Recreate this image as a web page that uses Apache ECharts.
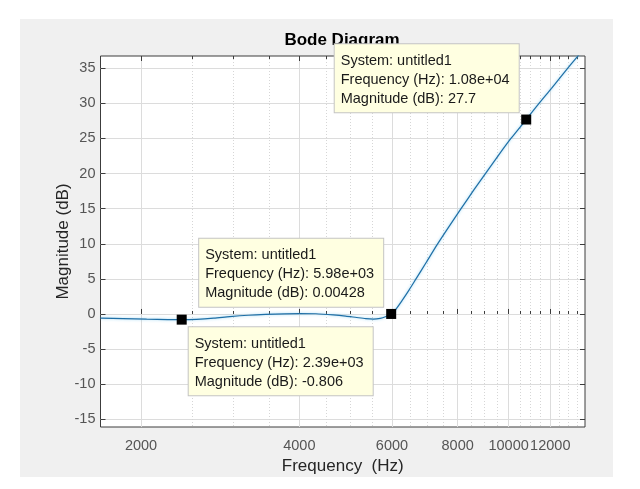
<!DOCTYPE html>
<html><head><meta charset="utf-8">
<script src="https://cdn.jsdelivr.net/npm/echarts@6/dist/echarts.min.js"></script>
<style>html,body{margin:0;padding:0;background:#fff;}#c{width:640px;height:489px;}</style>
</head><body><div id="c"></div>
<script>
// ---- data ----
const freqHz = [1675, 1850, 2050, 2250, 2390, 2550, 2750, 2950, 3200, 3450, 3750, 4000, 4300, 4640, 4900, 5140, 5350, 5530, 5700, 5830, 5980, 6107, 6270, 6465, 6666, 6965, 7308, 7702, 8119, 8575, 9055, 9564, 10102, 10800, 11422, 12065, 12740, 13487, 13968];
const magDb  = [-0.58, -0.66, -0.74, -0.79, -0.806, -0.76, -0.6, -0.38, -0.18, -0.06, 0.02, 0.05, 0.03, -0.13, -0.3, -0.5, -0.66, -0.72, -0.62, -0.4, 0.00428, 0.7, 1.9, 3.4, 5.0, 7.3, 9.85, 12.45, 15.0, 17.6, 20.1, 22.6, 25.0, 27.7, 30.0, 32.15, 34.35, 36.6, 38.0];
const freqMajorTicks = [2000, 4000, 6000, 8000, 10000, 12000];
const freqMinorTicks = [2500, 3000, 3500, 4500, 5000, 5500, 6500, 7000, 7500, 8500, 9000, 9500, 10500, 11000, 11500, 12500, 13000, 13500];
const magTicks = [-15, -10, -5, 0, 5, 10, 15, 20, 25, 30, 35];
const freqLimits = [1675, 13970];
const magLimits = [-16.1, 36.75];
const tipFreq = [2390, 5980, 10800];
const tipMag = [-0.806, 0.00428, 27.7];
const systemName = 'untitled1';
// ---- layout / style ----
const tipLabelPos = [[12, 12.7], [-187, -70.2], [-186.5, -70.2]];
const FONT = '"Liberation Sans", Arial, sans-serif';
const boxColor = '#3c3c3c';

function fmtExp(v) {
  const s = v.toExponential(2);
  const m = s.match(/^(.*)e([+-])(\d+)$/);
  return m[1] + 'e' + m[2] + (m[3].length < 2 ? '0' + m[3] : m[3]);
}

function xAxis(extra) {
  return Object.assign({
    type: 'log', logBase: 10, min: freqLimits[0], max: freqLimits[1],
    axisLine: {show: false}, axisLabel: {show: false}, axisTick: {show: false},
    splitLine: {show: false}, minorTick: {show: false}, minorSplitLine: {show: false}
  }, extra);
}
function yAxis(extra) {
  return Object.assign({
    type: 'value', min: magLimits[0], max: magLimits[1],
    axisLine: {show: false}, axisLabel: {show: false}, axisTick: {show: false},
    splitLine: {show: false}
  }, extra);
}

const chart = echarts.init(document.getElementById('c'), null, {renderer: 'canvas'});
chart.setOption({
  backgroundColor: '#ffffff',
  animation: false,
  graphic: {elements: [{type: 'rect', z: -10, z2: -10, silent: true,
    shape: {x: 20, y: 19, width: 593, height: 458}, style: {fill: '#f0f0f0'}}]},
  title: {text: 'Bode Diagram', left: 342, top: 32, textAlign: 'center', padding: 0, z: 1,
    textStyle: {fontFamily: FONT, fontSize: 17, fontWeight: 'bold', color: '#000'}},
  grid: {left: 100.5, right: 55, top: 56, bottom: 62, show: true, backgroundColor: '#ffffff',
    borderColor: boxColor, borderWidth: 1},
  xAxis: [
    xAxis({position: 'bottom',
      name: 'Frequency  (Hz)', nameLocation: 'middle', nameGap: 31, nameMoveOverlap: false,
      nameTextStyle: {fontFamily: FONT, fontSize: 17, color: '#262626'},
      axisLabel: {show: true, customValues: freqMajorTicks, margin: 11, fontFamily: FONT, fontSize: 14.5,
        color: '#555555', formatter: v => String(Math.round(v))},
      axisTick: {show: true, inside: true, length: 5, customValues: freqMajorTicks, lineStyle: {color: boxColor}},
      splitLine: {show: true, lineStyle: {color: '#dcdcdc', width: 1, type: 'solid'}}}),
    xAxis({position: 'bottom',
      axisTick: {show: true, inside: true, length: 3, customValues: freqMinorTicks, lineStyle: {color: boxColor}},
      splitLine: {show: true, lineStyle: {color: '#d6d6d6', width: 1, type: [1, 2]}}}),
    xAxis({position: 'top',
      axisTick: {show: true, inside: true, length: 5, customValues: freqMajorTicks, lineStyle: {color: boxColor}}}),
    xAxis({position: 'top',
      axisTick: {show: true, inside: true, length: 3, customValues: freqMinorTicks, lineStyle: {color: boxColor}}})
  ],
  yAxis: [
    yAxis({position: 'left',
      name: 'Magnitude (dB)', nameLocation: 'middle', nameGap: 29, nameMoveOverlap: false,
      nameTextStyle: {fontFamily: FONT, fontSize: 17, color: '#262626'},
      axisLabel: {show: true, customValues: magTicks, margin: 5, fontFamily: FONT, fontSize: 14.5,
        color: '#555555', formatter: v => String(v)},
      axisTick: {show: true, inside: true, length: 5, customValues: magTicks, lineStyle: {color: boxColor}},
      splitLine: {show: true, lineStyle: {color: '#dcdcdc', width: 1}}}),
    yAxis({position: 'right',
      axisTick: {show: true, inside: true, length: 5, customValues: magTicks, lineStyle: {color: boxColor}}})
  ],
  series: [
    {type: 'line', xAxisIndex: 0, yAxisIndex: 0, z: 3, silent: true, clip: true,
      data: freqHz.map((f, i) => [f, magDb[i]]),
      showSymbol: false, symbol: 'none', smooth: 0.25,
      lineStyle: {color: '#1f6fa6', width: 1.2, shadowColor: 'rgba(120,200,240,0.8)', shadowBlur: 3}},
    {type: 'scatter', xAxisIndex: 0, yAxisIndex: 0, z: 5, silent: true, clip: false,
      symbol: 'rect', symbolSize: 10, itemStyle: {color: '#000', opacity: 1},
      data: tipFreq.map((f, i) => ({value: [f, tipMag[i]], label: {position: tipLabelPos[i]}})),
      label: {show: true, align: 'left', verticalAlign: 'top',
        formatter: p => 'System: ' + systemName + '\nFrequency (Hz): ' + fmtExp(p.value[0]) +
          '\nMagnitude (dB): ' + p.value[1].toPrecision(3),
        fontFamily: FONT, fontSize: 14.5, lineHeight: 19, color: '#1a1a1a',
        backgroundColor: '#ffffe1', borderColor: '#c4c4c4', borderWidth: 1,
        padding: [7, 5, 4, 6], width: 173}}
  ]
});
</script></body></html>
